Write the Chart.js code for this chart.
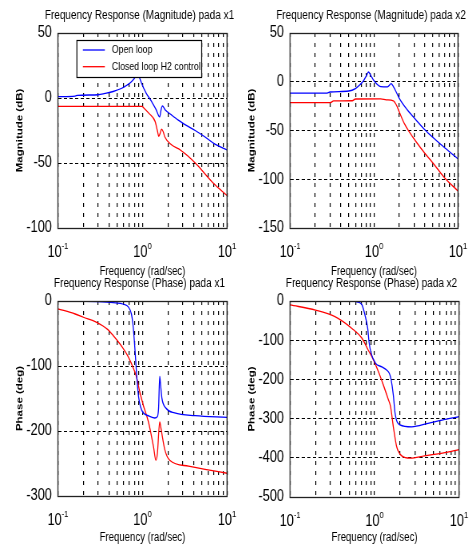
<!DOCTYPE html>
<html>
<head>
<meta charset="utf-8">
<script src="https://cdn.jsdelivr.net/npm/chart.js@4/dist/chart.umd.min.js"></script>
<style>
  html, body { margin: 0; padding: 0; background: #fff; }
  #wrap { position: relative; width: 469px; height: 549px; overflow: hidden; }
  canvas { position: absolute; }
</style>
</head>
<body>
<div id="wrap">
  <canvas id="c1"></canvas>
  <canvas id="c2"></canvas>
  <canvas id="c3"></canvas>
  <canvas id="c4"></canvas>
</div>
<script>
// ---- data ----
var seriesLabels = ['Open loop', 'Closed loop H2 control'];

// magnitude x1 (dB)
var freqMag1Open = [0.1, 0.16, 0.17, 0.3, 0.36, 0.45, 0.57, 0.66, 0.74, 0.8, 0.85, 0.88, 0.93, 0.98, 1.1, 1.29, 1.45, 1.55, 1.6, 1.66, 1.72, 1.85, 2.2, 2.65, 3.3, 4.2, 5.5, 7.2, 10];
var magX1Open = [1, 1.5, 2, 2.5, 3.5, 5, 7.5, 10, 12.5, 15, 17.5, 18.5, 15, 11, 4, -3, -9, -13.5, -14.5, -9, -6, -9, -13, -17, -21, -25, -30, -35.5, -40];
var freqMag1Closed = [0.1, 0.98, 1.05, 1.2, 1.41, 1.5, 1.56, 1.62, 1.68, 1.76, 1.84, 2.2, 2.8, 3.5, 4.5, 5.5, 7, 10];
var magX1Closed = [-6.5, -6.5, -8, -12, -18, -25, -29.5, -27, -24, -26, -30, -36, -40, -45, -52, -58.5, -66, -75];

// magnitude x2 (dB)
var freqMag2Open = [0.1, 0.27, 0.3, 0.5, 0.6, 0.68, 0.75, 0.82, 0.86, 0.92, 1.0, 1.1, 1.2, 1.45, 1.6, 1.7, 1.85, 2.0, 2.5, 3.0, 4.0, 5.0, 7.0, 10];
var magX2Open = [-11.7, -11.7, -10.5, -9.5, -7, -3, 1, 7, 10, 6, 1, -3, -5, -5.2, -2, -5, -11, -17, -29, -37, -49, -57, -68, -79];
var freqMag2Closed = [0.1, 0.3, 0.33, 0.55, 0.6, 1.2, 1.4, 1.7, 1.85, 2.0, 2.3, 2.7, 3.2, 4.0, 5.0, 7.0, 10];
var magX2Closed = [-21.5, -21.5, -19.7, -19.5, -17.7, -17.5, -18.5, -19.5, -24, -31, -43, -53, -62, -73, -83, -99, -112];

// phase x1 (deg)
var freqPh1Open = [0.1, 0.29, 0.45, 0.6, 0.68, 0.74, 0.77, 0.8, 0.83, 0.86, 0.9, 0.95, 1.02, 1.2, 1.4, 1.5, 1.55, 1.6, 1.64, 1.7, 1.9, 2.4, 4.2, 10];
var phX1Open = [0, -1, -2.5, -5, -9, -20, -35, -60, -90, -120, -148, -163, -172, -177, -180, -178, -165, -116, -130, -150, -165, -172, -176.5, -179];
var freqPh1Closed = [0.1, 0.16, 0.2, 0.28, 0.39, 0.45, 0.57, 0.68, 0.8, 0.85, 0.93, 1.02, 1.17, 1.35, 1.44, 1.5, 1.6, 1.65, 1.84, 2.1, 3.5, 5.5, 10];
var phX1Closed = [-12, -20, -25, -32, -44, -53, -70, -86, -107, -117, -140, -160, -185, -224, -245, -235, -186, -195, -229, -245, -254, -259, -265];

// phase x2 (deg)
var freqPh2Open = [0.1, 0.55, 0.62, 0.71, 0.77, 0.83, 0.86, 0.91, 1.03, 1.22, 1.39, 1.5, 1.57, 1.67, 1.75, 2.0, 2.75, 4.3, 6.8, 10];
var phX2Open = [0, 0, -2, -10, -36, -70, -104, -133, -159, -168, -176, -185, -200, -240, -286, -316, -321, -312, -302, -295];
var freqPh2Closed = [0.1, 0.2, 0.34, 0.54, 0.71, 0.84, 0.97, 1.11, 1.27, 1.45, 1.55, 1.67, 1.83, 2.1, 2.65, 3.9, 6.8, 10];
var phX2Closed = [-10, -23, -40, -70, -95, -125, -150, -180, -214, -250, -270, -321, -372, -395, -401, -395, -387, -379];

// x axis: grid at every log tick, labels at the decades
var gridFreqs = [0.1, 0.2, 0.3, 0.4, 0.5, 0.6, 0.7, 0.8, 0.9, 1, 2, 3, 4, 5, 6, 7, 8, 9, 10];
var decadeTicks = [0.1, 1, 10];
var decadeExps = ['-1', '0', '1'];

// ---- look ----
var FONT = "'Liberation Sans', Arial, sans-serif";
var BLUE = '#0000ff', RED = '#ff0000';
var SX = 0.8;   // the old figure is squeezed sideways: draw wide, show narrow

function pts(xs, ys) {
    var out = [];
    for (var i = 0; i < xs.length; i++) out.push({x: xs[i], y: ys[i]});
    return out;
}

var panels = [
    {id: 'c1', left: 0, top: 0, w: 242, h: 285, plot: [58, 33, 227, 228], yMin: -100, yMax: 50, yStep: 50,
     yTitle: 'Magnitude (dB)', title: 'Frequency Response (Magnitude) pada x1', legend: true,
     open: pts(freqMag1Open, magX1Open), closed: pts(freqMag1Closed, magX1Closed)},
    {id: 'c2', left: 232, top: 0, w: 237, h: 285, plot: [290, 33, 458, 228], yMin: -150, yMax: 50, yStep: 50,
     yTitle: 'Magnitude (dB)', title: 'Frequency Response (Magnitude) pada x2', legend: false,
     open: pts(freqMag2Open, magX2Open), closed: pts(freqMag2Closed, magX2Closed)},
    {id: 'c3', left: 0, top: 270, w: 242, h: 279, plot: [58, 301, 227, 496], yMin: -300, yMax: 0, yStep: 100,
     yTitle: 'Phase (deg)', title: 'Frequency Response (Phase) pada x1', legend: false,
     open: pts(freqPh1Open, phX1Open), closed: pts(freqPh1Closed, phX1Closed)},
    {id: 'c4', left: 232, top: 270, w: 237, h: 279, plot: [290, 301, 459, 497], yMin: -500, yMax: 0, yStep: 100,
     yTitle: 'Phase (deg)', title: 'Frequency Response (Phase) pada x2', legend: false,
     open: pts(freqPh2Open, phX2Open), closed: pts(freqPh2Closed, phX2Closed)}
];

// frame, title, 10^n labels and the boxed legend, MATLAB style
var matlabLook = {
    id: 'matlabLook',
    afterDatasetsDraw: function(chart, args, opts) {
        if (!opts.legend) return;
        var ctx = chart.ctx, a = chart.chartArea;
        var bx = a.left + 19 / SX, by = Math.round(a.top + 7) + 0.5, bw = 125 / SX;
        ctx.save();
        ctx.fillStyle = '#fff';
        ctx.fillRect(bx, by, bw, 37);
        ctx.strokeStyle = '#000';
        ctx.lineWidth = 1.2;
        ctx.strokeRect(bx, by, bw, 37);
        ctx.font = '11px ' + FONT;
        ctx.textBaseline = 'middle';
        ctx.fillStyle = '#000';
        chart.data.datasets.forEach(function(ds, i) {
            var y = a.top + 17 + i * 16.7;
            ctx.strokeStyle = ds.borderColor;
            ctx.lineWidth = 1.3;
            ctx.beginPath();
            ctx.moveTo(a.left + 25 / SX, y);
            ctx.lineTo(a.left + 47 / SX, y);
            ctx.stroke();
            ctx.fillText(ds.label, a.left + 54 / SX, y);
        });
        ctx.restore();
    },
    afterDraw: function(chart, args, opts) {
        var ctx = chart.ctx, a = chart.chartArea, xs = chart.scales.x;
        ctx.save();
        ctx.strokeStyle = '#222';
        ctx.lineWidth = 1.3;
        ctx.strokeRect(a.left, Math.round(a.top) + 0.5, a.right - a.left, Math.round(a.bottom - a.top));
        ctx.fillStyle = '#000';
        ctx.textBaseline = 'middle';
        ctx.textAlign = 'center';
        ctx.font = '12.5px ' + FONT;
        ctx.fillText(opts.title, (a.left + a.right) / 2 - 3 / SX, a.top - 17);
        ctx.textBaseline = 'alphabetic';
        ctx.textAlign = 'left';
        decadeTicks.forEach(function(v, i) {
            var x = xs.getPixelForValue(v);
            ctx.font = '16px ' + FONT;
            var w1 = ctx.measureText('10').width;
            ctx.font = '9.5px ' + FONT;
            var w2 = ctx.measureText(decadeExps[i]).width;
            var x0 = x - (w1 + w2) / 2;
            ctx.font = '16px ' + FONT;
            ctx.fillText('10', x0, a.bottom + 29);
            ctx.font = '9.5px ' + FONT;
            ctx.fillText(decadeExps[i], x0 + w1, a.bottom + 21);
        });
        ctx.restore();
    }
};

panels.forEach(function(p) {
    var cv = document.getElementById(p.id);
    cv.width = Math.round(p.w / SX); cv.height = p.h;
    cv.style.left = p.left + 'px'; cv.style.top = p.top + 'px';
    cv.style.width = p.w + 'px'; cv.style.height = p.h + 'px';

    new Chart(cv.getContext('2d'), {
        type: 'line',
        data: {
            datasets: [
                {label: seriesLabels[0], data: p.open, borderColor: BLUE, borderWidth: 1.3,
                 pointRadius: 0, fill: false, cubicInterpolationMode: 'monotone'},
                {label: seriesLabels[1], data: p.closed, borderColor: RED, borderWidth: 1.3,
                 pointRadius: 0, fill: false, cubicInterpolationMode: 'monotone'}
            ]
        },
        options: {
            responsive: false,
            animation: false,
            devicePixelRatio: 1,
            layout: {padding: {left: 0, top: p.plot[1] - p.top,
                               right: (p.left + p.w - p.plot[2]) / SX, bottom: 0}},
            plugins: {
                legend: {display: false},
                tooltip: {enabled: false},
                matlabLook: {title: p.title, legend: p.legend}
            },
            scales: {
                x: {
                    type: 'logarithmic', min: 0.1, max: 10,
                    afterBuildTicks: function(scale) {
                        scale.ticks = gridFreqs.map(function(v) { return {value: v}; });
                    },
                    afterFit: function(scale) { scale.height = p.top + p.h - p.plot[3]; },
                    ticks: {display: false},
                    grid: {color: '#000', lineWidth: 1.2, drawTicks: false},
                    border: {display: false, dash: [4, 6]},
                    title: {display: true, text: 'Frequency (rad/sec)', color: '#000',
                            font: {family: FONT, size: 12}, padding: {top: 0, bottom: p.top === 0 ? 5.8 : 3.8}}
                },
                y: {
                    min: p.yMin, max: p.yMax,
                    afterFit: function(scale) { scale.width = (p.plot[0] - p.left) / SX; },
                    ticks: {stepSize: p.yStep, color: '#000', padding: 7.5, font: {family: FONT, size: 16}},
                    grid: {color: '#000', lineWidth: 1, drawTicks: false},
                    border: {display: false, dash: [4, 3]},
                    title: {display: true, text: p.yTitle, color: '#000',
                            font: {family: FONT, size: 11.5, weight: 'bold'}, padding: {top: 18, bottom: 0}}
                }
            }
        },
        plugins: [matlabLook]
    });
});
</script>
</body>
</html>
